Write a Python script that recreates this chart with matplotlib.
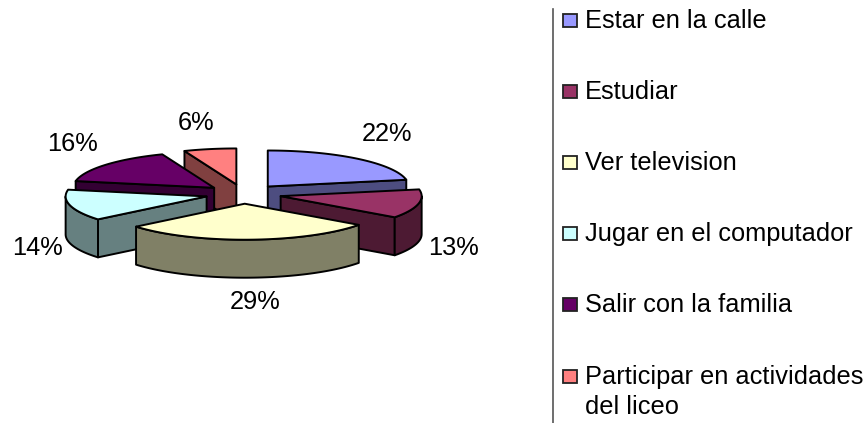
import numpy as np
import matplotlib
matplotlib.use('Agg')
import matplotlib.pyplot as plt
from matplotlib.patches import Rectangle

plt.rcParams['font.family'] = ['Liberation Sans', 'DejaVu Sans']

labels = ['Estar en la calle', 'Estudiar', 'Ver television',
          'Jugar en el computador', 'Salir con la familia',
          'Participar en actividades\ndel liceo']
values = [22, 13, 29, 14, 16, 6]
colors = ['#9999FF', '#993366', '#FFFFCC', '#CCFFFF', '#660066', '#FF8080']

# the chart is laid out in image pixels
cx, cy = 243.5, 194
rx, ry = 141, 36
explode = 0.27
depth = 38
order = [5, 0, 4, 1, 3, 2]  # back slices first

pct_pos = [(387, 134), (453, 248), (255, 302), (37, 248), (72, 144), (196, 123)]
legend_y = [21, 92, 163, 234, 305, 377]


def shade(c, k=0.5):
    rgb = np.array(matplotlib.colors.to_rgb(c))
    return tuple(rgb * k)


def rim(x0, y0, t1, t2):
    t = np.linspace(t1, t2, max(int(abs(t2 - t1) * 40), 2))
    return x0 + rx * np.sin(t), y0 - ry * np.cos(t)


def draw_slice(ax, x0, y0, t1, t2, col):
    dark = shade(col)
    kw = dict(edgecolor='black', linewidth=1.4, joinstyle='round')
    # cut faces, only those turned towards the viewer
    for t, show in ((t1, np.sin(t1) < -1e-6), (t2, np.sin(t2) > 1e-6)):
        if show:
            xr, yr = rim(x0, y0, t, t)
            xs = [x0, xr[0], xr[0], x0]
            ys = [y0, yr[0], yr[0] + depth, y0 + depth]
            ax.fill(xs, ys, facecolor=dark, **kw)
    # outer wall on the front half
    a, b = max(t1, np.pi / 2), min(t2, 3 * np.pi / 2)
    if b > a:
        xr, yr = rim(x0, y0, a, b)
        ax.fill(np.r_[xr, xr[::-1]], np.r_[yr, yr[::-1] + depth],
                facecolor=dark, **kw)
    xr, yr = rim(x0, y0, t1, t2)
    ax.fill(np.r_[x0, xr], np.r_[y0, yr], facecolor=col, **kw)


fig = plt.figure(figsize=(8.63, 4.23), dpi=100)
ax = fig.add_axes([0, 0, 1, 1])
ax.set_xlim(0, 863)
ax.set_ylim(423, 0)
ax.axis('off')

edges = np.r_[0, np.cumsum(values)] / np.sum(values) * 2 * np.pi
for i in order:
    mid = (edges[i] + edges[i + 1]) / 2
    x0 = cx + explode * rx * np.sin(mid)
    y0 = cy - explode * ry * np.cos(mid)
    draw_slice(ax, x0, y0, edges[i], edges[i + 1], colors[i])

for v, (x, y) in zip(values, pct_pos):
    ax.text(x, y, '%d%%' % v, fontsize=18.3, ha='center', va='center', color='black')

ax.plot([553, 553], [9, 423], color='#555555', lw=1.2)
for lab, col, y in zip(labels, colors, legend_y):
    ax.add_patch(Rectangle((563, y - 6.5), 14, 13, facecolor=col, edgecolor='#222222', lw=1.3))
    ax.text(585, y - 12, lab, fontsize=18.3, ha='left', va='top', color='black', linespacing=1.3)

fig.savefig('out.png', dpi=100)
